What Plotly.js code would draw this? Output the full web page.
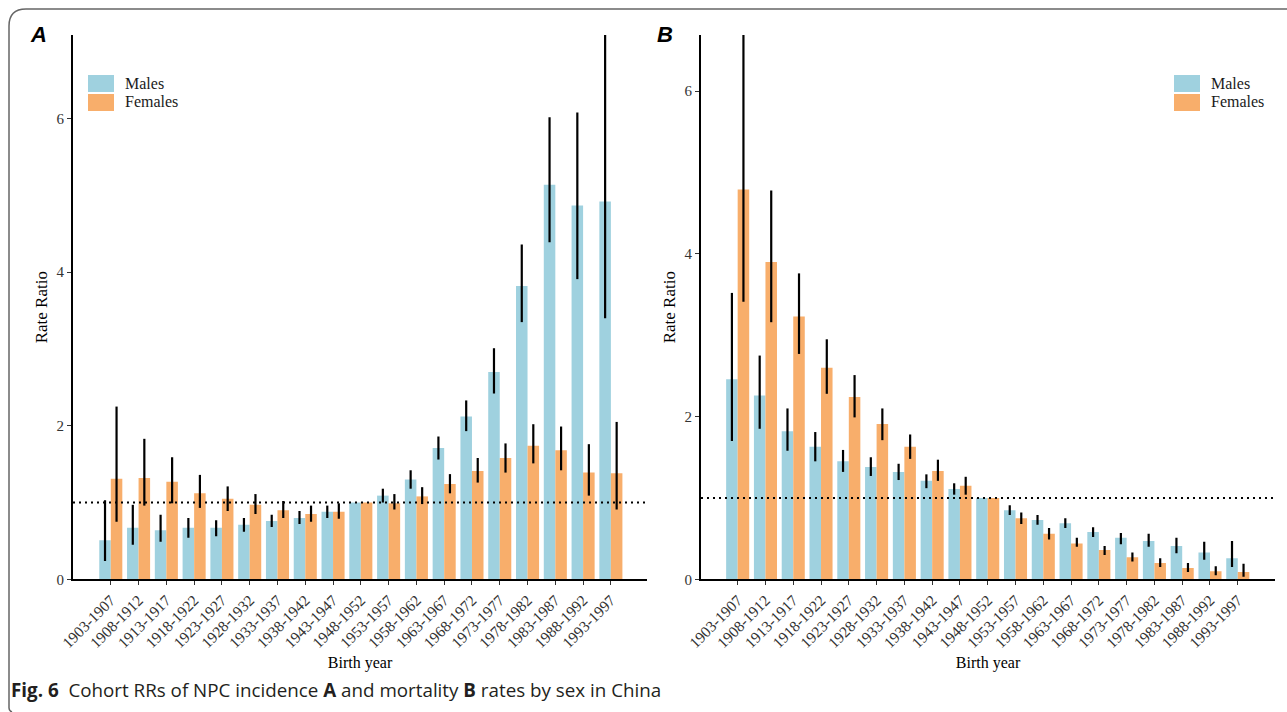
<!DOCTYPE html>
<html>
<head>
<meta charset="utf-8">
<script src="https://cdn.plot.ly/plotly-3.0.1.min.js"></script>
<style>html,body{margin:0;padding:0;background:#fff;}#chart{width:1287px;height:712px;}</style>
</head>
<body>
<div id="chart"></div>
<script>
// ---------- data ----------
const cohorts = ["1903-1907","1908-1912","1913-1917","1918-1922","1923-1927","1928-1932","1933-1937","1938-1942","1943-1947","1948-1952","1953-1957","1958-1962","1963-1967","1968-1972","1973-1977","1978-1982","1983-1987","1988-1992","1993-1997"];

// Panel A: incidence rate ratios
const incMale      = [0.51,0.67,0.64,0.67,0.67,0.71,0.76,0.80,0.88,1.00,1.09,1.30,1.71,2.12,2.70,3.82,5.14,4.87,4.92];
const incMaleLo    = [0.24,0.45,0.49,0.54,0.56,0.62,0.68,0.72,0.80,1.00,1.00,1.18,1.56,1.93,2.42,3.35,4.39,3.91,3.40];
const incMaleHi    = [1.03,0.97,0.84,0.80,0.77,0.80,0.84,0.89,0.96,1.00,1.18,1.42,1.86,2.33,3.01,4.36,6.02,6.08,7.60];
const incFemale    = [1.31,1.32,1.27,1.12,1.05,0.97,0.90,0.85,0.88,1.00,0.99,1.08,1.24,1.41,1.58,1.74,1.68,1.39,1.38];
const incFemaleLo  = [0.75,0.96,0.99,0.93,0.89,0.85,0.80,0.75,0.79,1.00,0.91,0.98,1.12,1.26,1.39,1.51,1.42,1.09,0.91];
const incFemaleHi  = [2.25,1.83,1.59,1.36,1.21,1.11,1.02,0.96,0.99,1.00,1.11,1.20,1.37,1.58,1.77,2.02,1.99,1.76,2.05];

// Panel B: mortality rate ratios
const morMale      = [2.46,2.26,1.82,1.63,1.45,1.38,1.32,1.21,1.11,1.00,0.85,0.73,0.69,0.58,0.51,0.47,0.41,0.33,0.26];
const morMaleLo    = [1.70,1.85,1.58,1.45,1.32,1.27,1.22,1.12,1.04,1.00,0.79,0.67,0.63,0.52,0.43,0.40,0.32,0.24,0.15];
const morMaleHi    = [3.52,2.75,2.10,1.81,1.59,1.50,1.42,1.29,1.18,1.00,0.91,0.79,0.75,0.64,0.57,0.56,0.51,0.46,0.47];
const morFemale    = [4.79,3.90,3.23,2.60,2.24,1.91,1.63,1.33,1.15,1.00,0.75,0.56,0.44,0.36,0.27,0.20,0.14,0.10,0.09];
const morFemaleLo  = [3.41,3.16,2.77,2.28,1.99,1.71,1.48,1.21,1.04,1.00,0.68,0.49,0.40,0.30,0.22,0.15,0.09,0.05,0.03];
const morFemaleHi  = [6.90,4.78,3.76,2.95,2.51,2.10,1.78,1.47,1.26,1.00,0.82,0.63,0.51,0.41,0.33,0.26,0.20,0.16,0.19];

const seriesNames = ["Males","Females"];

// ---------- helpers ----------
const W = 1287, H = 712;
const px = v => v / W;
const py = v => 1 - v / H;
const maleColor = "#9fd1df", femaleColor = "#f8ae6b";
const serif = "Liberation Serif, Times New Roman, serif";

function errArr(val, lo, hi) {
  return {
    type: "data", symmetric: false,
    array: hi.map((h, i) => Math.max(h - val[i], 0)),
    arrayminus: lo.map((l, i) => Math.max(val[i] - l, 0)),
    width: 0, thickness: 2.2, color: "#000"
  };
}

function barTrace(name, vals, lo, hi, color, xa, ya) {
  return {
    type: "bar", name: name, x: cohorts, y: vals,
    marker: {color: color, line: {width: 0}},
    error_y: errArr(vals, lo, hi),
    xaxis: xa, yaxis: ya, showlegend: false, hoverinfo: "x+y"
  };
}

const traces = [
  barTrace(seriesNames[0], incMale, incMaleLo, incMaleHi, maleColor, "x", "y"),
  barTrace(seriesNames[1], incFemale, incFemaleLo, incFemaleHi, femaleColor, "x", "y"),
  barTrace(seriesNames[0], morMale, morMaleLo, morMaleHi, maleColor, "x2", "y2"),
  barTrace(seriesNames[1], morFemale, morFemaleLo, morFemaleHi, femaleColor, "x2", "y2")
];

const yDom = [py(579.3), py(35)];

function xAxis(domain, range) {
  return {
    domain: domain, range: range, type: "category",
    showline: true, linecolor: "#000", linewidth: 2,
    ticks: "outside", ticklen: 4, tickcolor: "#333", tickwidth: 1,
    tickangle: -45, showgrid: false, zeroline: false,
    tickfont: {family: serif, size: 15.5, color: "#333"},
    title: {text: "Birth year", font: {family: serif, size: 16, color: "#000"}, standoff: 7},
    automargin: false, fixedrange: true
  };
}
function yAxis(anchor, range) {
  return {
    domain: yDom, range: range, anchor: anchor,
    showline: true, linecolor: "#000", linewidth: 2,
    ticks: "outside", ticklen: 4, tickcolor: "#333", tickwidth: 1,
    tickvals: [0, 2, 4, 6], showgrid: false, zeroline: false,
    tickfont: {family: serif, size: 15, color: "#333"},
    title: {text: "Rate Ratio", font: {family: serif, size: 17, color: "#000"}, standoff: 5},
    automargin: false, fixedrange: true
  };
}

// legend drawn manually (swatches + text)
function legendShapes(x0) {
  return [
    {type: "rect", xref: "paper", yref: "paper", x0: px(x0), x1: px(x0 + 26), y0: py(92), y1: py(75), fillcolor: maleColor, line: {width: 0}},
    {type: "rect", xref: "paper", yref: "paper", x0: px(x0), x1: px(x0 + 26), y0: py(111), y1: py(94), fillcolor: femaleColor, line: {width: 0}}
  ];
}
function legendText(x0) {
  return [
    {xref: "paper", yref: "paper", x: px(x0 + 35), y: py(84), xanchor: "left", yanchor: "middle", showarrow: false, text: seriesNames[0], font: {family: serif, size: 16, color: "#1a1a1a"}},
    {xref: "paper", yref: "paper", x: px(x0 + 35), y: py(102), xanchor: "left", yanchor: "middle", showarrow: false, text: seriesNames[1], font: {family: serif, size: 16, color: "#1a1a1a"}}
  ];
}

const borderPath = `M ${px(9)} ${py(708)} Q ${px(9)} ${py(711)} ${px(12)} ${py(712)} M ${px(9)} ${py(708)} L ${px(9)} ${py(26)} Q ${px(9)} ${py(9)} ${px(26)} ${py(9)} L ${px(1287)} ${py(9)}`;

const layout = {
  width: W, height: H,
  margin: {l: 0, r: 0, t: 0, b: 0},
  paper_bgcolor: "#fff", plot_bgcolor: "rgba(0,0,0,0)",
  barmode: "group", bargap: 0.17, bargroupgap: 0,
  showlegend: false,
  xaxis: xAxis([px(73), px(647)], [-1.36, 19.3]),
  yaxis: yAxis("x", [0, 7.09]),
  xaxis2: xAxis([px(701), px(1275)], [-1.32, 19.34]),
  yaxis2: yAxis("x2", [0, 6.69]),
  shapes: [
    {type: "line", xref: "x domain", yref: "y", x0: 0, x1: 1, y0: 1, y1: 1, line: {color: "#000", width: 2, dash: "2px,4px"}, layer: "above"},
    {type: "line", xref: "x2 domain", yref: "y2", x0: 0, x1: 1, y0: 1, y1: 1, line: {color: "#000", width: 2, dash: "2px,4px"}, layer: "above"},
    {type: "path", xref: "paper", yref: "paper", path: borderPath, line: {color: "#666", width: 1.5}}
  ].concat(legendShapes(88), legendShapes(1174)),
  annotations: [
    {xref: "paper", yref: "paper", x: px(28), y: py(35), xanchor: "left", yanchor: "middle", showarrow: false, text: "<b><i>A</i></b>", font: {family: "Liberation Sans, Arial, sans-serif", size: 22, color: "#000"}},
    {xref: "paper", yref: "paper", x: px(655), y: py(35), xanchor: "left", yanchor: "middle", showarrow: false, text: "<b><i>B</i></b>", font: {family: "Liberation Sans, Arial, sans-serif", size: 22, color: "#000"}},
    {xref: "paper", yref: "paper", x: px(9), y: py(690), xanchor: "left", yanchor: "middle", showarrow: false, text: "<b>Fig. 6</b>  Cohort RRs of NPC incidence <b>A</b> and mortality <b>B</b> rates by sex in China", font: {family: "Open Sans, Noto Sans, sans-serif", size: 18.8, color: "#231f20"}}
  ].concat(legendText(88), legendText(1174))
};

Plotly.newPlot("chart", traces, layout, {staticPlot: true, displayModeBar: false});
</script>
</body>
</html>
